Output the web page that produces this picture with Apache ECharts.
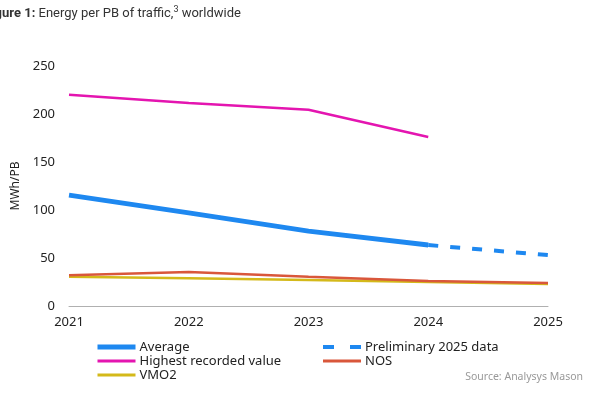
<!DOCTYPE html>
<html>
<head>
<meta charset="utf-8">
<script src="https://cdn.jsdelivr.net/npm/echarts@6/dist/echarts.min.js"></script>
<style>
	html, body {margin: 0; padding: 0; background: #fff;}
	#chart {width: 600px; height: 400px;}
</style>
</head>
<body>
<div id="chart"></div>
<script>
const years = ['2021', '2022', '2023', '2024', '2025']
const average = [115.5, 97, 78, 63.5, null]
const preliminary = [null, null, null, 63.5, 53]
const highest = [220, 211.5, 204.5, 176, null]
const nos = [32, 35.5, 30.5, 26, 24]
const vmo2 = [30.5, 29, 27, 25, 23]
const yTicks = [0, 50, 100, 150, 200, 250]

const font = '"Noto Sans", sans-serif'
const chart = echarts.init(document.getElementById('chart'))

const lineSeries = (name, data, color, width, extra) => ({
	name,
	type: 'line',
	data,
	symbol: 'none',
	connectNulls: false,
	lineStyle: {color, width},
	itemStyle: {color},
	...extra
})

const legendBase = {
	orient: 'vertical',
	top: 340,
	padding: 0,
	itemWidth: 38,
	itemHeight: 10,
	itemGap: 0,
	itemStyle: {opacity: 0},
	textStyle: {color: '#222', fontSize: 13, lineHeight: 14, padding: [0, 0, 0, -1], fontFamily: font}
}

chart.setOption({
	animation: false,
	backgroundColor: '#fff',
	textStyle: {fontFamily: font},
	graphic: [{
		type: 'text',
		left: -16,
		top: 5,
		style: {
			text: '{b|Figure 1:} Energy per PB of traffic,{s|3} worldwide',
			rich: {
				b: {fontWeight: 'bold', fontSize: 13, fontFamily: 'Roboto', fill: '#333'},
				s: {fontSize: 9, fontFamily: 'Roboto', verticalAlign: 'top', padding: [0, 0, 8, 0], fill: '#333'}
			},
			fontSize: 13,
			fontFamily: 'Roboto',
			fill: '#333'
		}
	}, {
		type: 'text',
		right: 17,
		top: 372,
		style: {text: 'Source: Analysys Mason', fontSize: 10.5, fontFamily: font, fill: '#999'}
	}],
	grid: {left: 69, right: 52, top: 66, bottom: 94},
	xAxis: {
		type: 'category',
		data: years,
		boundaryGap: false,
		axisLine: {lineStyle: {color: '#b0b0b0', width: 1}},
		axisTick: {show: false},
		axisLabel: {color: '#222', fontSize: 13, margin: 10, fontFamily: font}
	},
	yAxis: {
		type: 'value',
		min: yTicks[0],
		max: yTicks[yTicks.length - 1],
		interval: 50,
		name: 'MWh/PB',
		nameLocation: 'middle',
		nameGap: 31,
		nameTextStyle: {color: '#222', fontSize: 12, fontFamily: font},
		axisLine: {show: false},
		axisTick: {show: false},
		splitLine: {show: false},
		axisLabel: {color: '#222', fontSize: 13, margin: 14, fontFamily: font}
	},
	legend: [{
		...legendBase,
		left: 95,
		data: [
			{name: 'Average', lineStyle: {width: 5}},
			{name: 'Highest recorded value', lineStyle: {width: 3}},
			{name: 'VMO2', lineStyle: {width: 3}}
		]
	}, {
		...legendBase,
		left: 321,
		data: [
			{name: 'Preliminary 2025 data', lineStyle: {type: [11, 16], width: 4}},
			{name: 'NOS', lineStyle: {width: 3}}
		]
	}],
	series: [
		lineSeries('VMO2', vmo2, '#d4b91a', 2.5),
		lineSeries('NOS', nos, '#d9573b', 2.5),
		lineSeries('Highest recorded value', highest, '#e415b0', 2.5),
		lineSeries('Average', average, '#1e88f0', 5),
		lineSeries('Preliminary 2025 data', preliminary, '#1e88f0', 4, {
			lineStyle: {color: '#1e88f0', width: 4, type: [10, 12]}
		})
	]
})
</script>
</body>
</html>
